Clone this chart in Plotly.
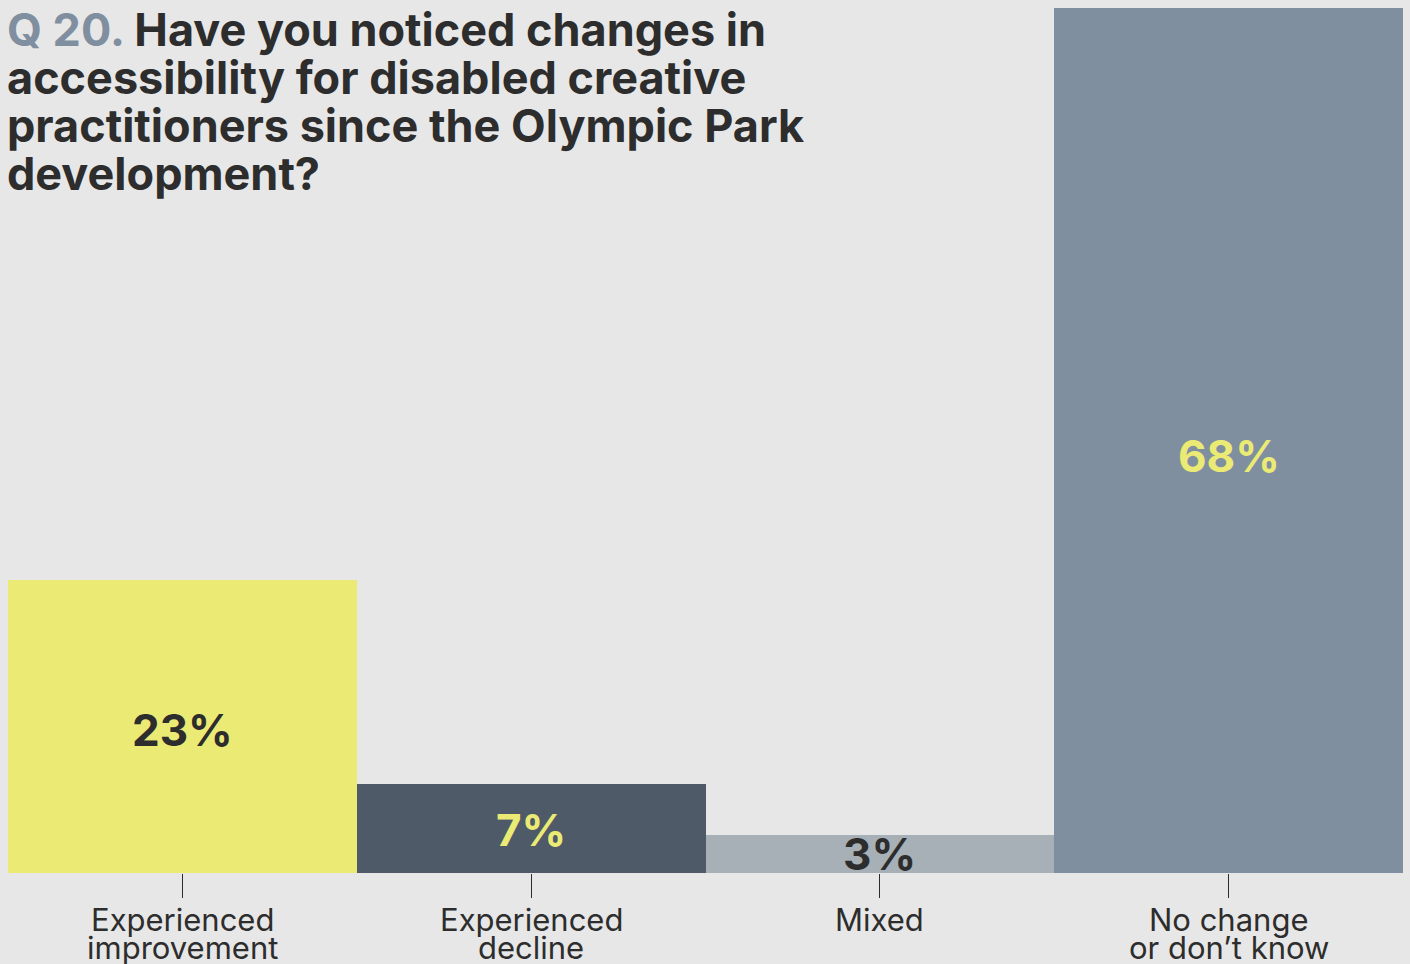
import plotly.graph_objects as go

categories = ["Experienced improvement", "Experienced decline", "Mixed", "No change or don’t know"]
label_line1 = ["Experienced", "Experienced", "Mixed", "No change"]
label_line2 = ["improvement", "decline", "", "or don’t know"]
values = [23, 7, 3, 68]
value_labels = ["23%", "7%", "3%", "68%"]
bar_colors = ["#ebea74", "#4e5a67", "#a8b0b7", "#7f8fa0"]
value_label_colors = ["#2d2d2d", "#ebea74", "#2d2d2d", "#ebea74"]
title_lines = [
    "<span style='color:#7f8fa0'>Q 20.</span> Have you noticed changes in",
    "accessibility for disabled creative",
    "practitioners since the Olympic Park",
    "development?",
]

BG = "#e7e7e7"
TXT = "#2d2d2d"
FONT = "Inter"

fig = go.Figure(go.Bar(
    x=categories, y=values, marker=dict(color=bar_colors, line=dict(width=0)),
    hoverinfo="skip",
))

ann = []
label_shift = [-3, -2, 0, -15]
for c, v, t, col, s in zip(categories, values, value_labels, value_label_colors, label_shift):
    ann.append(dict(x=c, y=v / 2, xref="x", yref="y", text=f"<b>{t}</b>", showarrow=False,
                    font=dict(family=FONT, size=44, color=col), yshift=s))
for c, l1, l2 in zip(categories, label_line1, label_line2):
    ann.append(dict(x=c, y=0, xref="x", yref="y", text=l1, showarrow=False, yanchor="middle",
                    font=dict(family=FONT, size=31, color=TXT), yshift=-46))
    if l2:
        ann.append(dict(x=c, y=0, xref="x", yref="y", text=l2, showarrow=False, yanchor="middle",
                        font=dict(family=FONT, size=31, color=TXT), yshift=-74))
for i, line in enumerate(title_lines):
    ann.append(dict(x=0, y=1, xref="paper", yref="paper", text=f"<b>{line}</b>", showarrow=False,
                    xanchor="left", yanchor="middle", align="left",
                    font=dict(family=FONT, size=45, color=TXT), xshift=-3, yshift=-21 - 48 * i))

fig.update_layout(
    width=1410, height=964,
    margin=dict(l=8, r=7, t=8, b=91),
    paper_bgcolor=BG, plot_bgcolor=BG,
    bargap=0, showlegend=False,
    annotations=ann,
    xaxis=dict(showticklabels=False, ticks="outside", ticklen=24, tickwidth=1, tickcolor=TXT,
               showgrid=False, zeroline=False, showline=False, fixedrange=True),
    yaxis=dict(range=[0, 68], visible=False, fixedrange=True),
)

fig.write_html("out.html", config={"displayModeBar": False})
